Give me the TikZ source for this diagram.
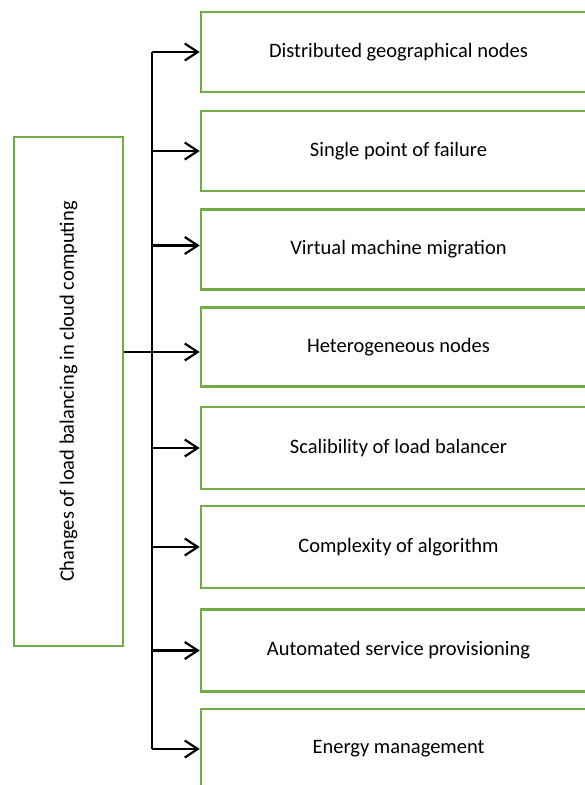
\documentclass[tikz,border=0pt]{standalone}
\usepackage{fontspec}
\setmainfont{Carlito}
\usetikzlibrary{arrows.meta,positioning,calc}

\definecolor{boxgreen}{RGB}{112,173,71}

\begin{document}
\begin{tikzpicture}[x=1pt, y=1pt,
  challenge/.style={draw=boxgreen, line width=2.5pt, minimum width=395pt, minimum height=80pt, font=\fontsize{20.5}{24}\selectfont},
  branch/.style={line width=2.2pt},
  >={Straight Barb[length=13pt,width=17pt]}]
\useasboundingbox (0,0) rectangle (585,-785);

% Main box
\node (main) [draw=boxgreen, line width=2.5pt, minimum width=509pt, minimum height=109pt, rotate=90, font=\fontsize{20.5}{24}\selectfont] at (68.5,-391.5) {Changes of load balancing in cloud computing};

% Challenges
\node (b1) [challenge] at (398.5,-52) {Distributed geographical nodes};
\node (b2) [challenge] at (398.5,-151) {Single point of failure};
\node (b3) [challenge] at (398.5,-249.5) {Virtual machine migration};
\node (b4) [challenge, minimum height=79pt] at (398.5,-347) {Heterogeneous nodes};
\node (b5) [challenge, minimum height=82pt] at (398.5,-448) {Scalibility of load balancer};
\node (b6) [challenge, minimum height=82pt] at (398.5,-547) {Complexity of algorithm};
\node (b7) [challenge, minimum height=82pt] at (398.5,-650.5) {Automated service provisioning};
\node (b8) [challenge, minimum height=80pt] at (398.5,-749) {Energy management};

% Trunk
\coordinate (trunk) at (152,-352);
\coordinate (in3) at ($(b3.west)+(0,4)$);
\coordinate (in4) at ($(b4.west)+(0,-5)$);
\draw[branch] (in4 -| main.south) -- (in4 -| trunk);
\draw[branch] (b1.west -| trunk) -- (b8.west -| trunk);

% Arrows
\foreach \i in {1,2,5,6,7,8}
  \draw[branch,->] (b\i.west -| trunk) -- (b\i.west);
\draw[branch,->] (in3 -| trunk) -- (in3);
\draw[branch,->] (in4 -| trunk) -- (in4);

\end{tikzpicture}
\end{document}
